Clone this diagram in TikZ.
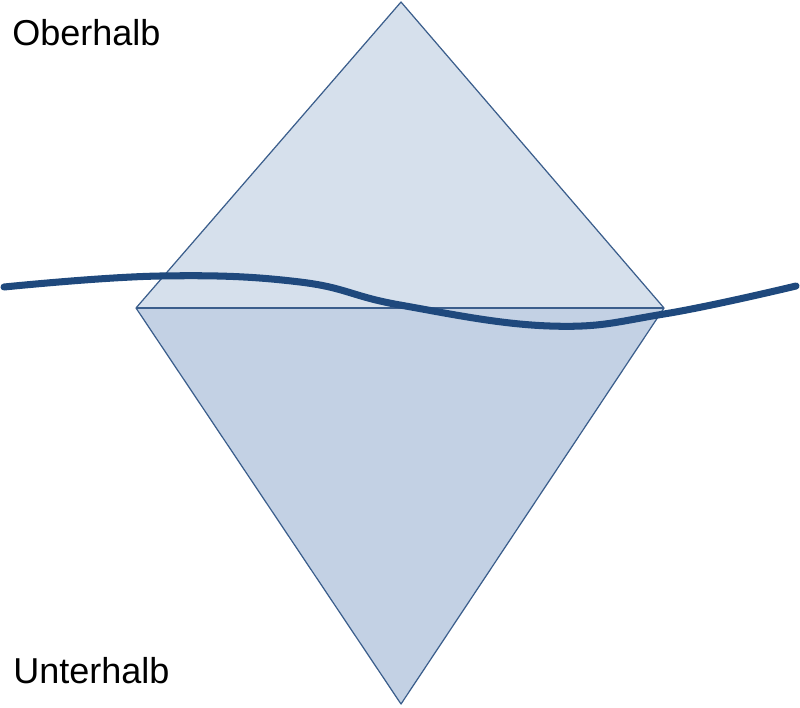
\documentclass[tikz,border=0pt]{standalone}
\usepackage{fontspec}
\setmainfont{Liberation Sans}
\definecolor{upfill}{HTML}{D6E0EC}
\definecolor{lowfill}{HTML}{C3D1E4}
\definecolor{edgeblue}{HTML}{3B5E8C}
\definecolor{waveblue}{HTML}{1F497D}
\begin{document}
\begin{tikzpicture}[x=0.02cm, y=-0.02cm]
\useasboundingbox (0,0) rectangle (800,707);

\tikzset{halfstyle/.style={draw=edgeblue, line width=0.7pt, line join=round}}
\tikzset{wavestyle/.style={draw=waveblue, line width=4pt, line cap=round}}
\tikzset{every node/.style={font=\fontsize{20.5pt}{24pt}\selectfont, inner sep=0pt, anchor=base west}}

% corners of the diamond
\coordinate (top) at (401,2);
\coordinate (left) at (136,308);
\coordinate (right) at (664,308);
\coordinate (bottom) at (401,704);

\fill [upfill] (left) -- (top) -- (right) -- cycle;
\fill [lowfill] (left) -- (bottom) -- (right) -- cycle;
\draw [halfstyle] (left) -- (top) -- (right) -- (bottom) -- cycle;
\draw [halfstyle] (left) -- (right);

% the water line
\draw [wavestyle] plot [smooth, tension=0.7] coordinates {(4,287) (160,276) (300,282) (400,305) (550,326) (664,314) (796,286)};

\node (oben) at (12,45) {Oberhalb};
\node (unten) at (13,683) {Unterhalb};
\end{tikzpicture}
\end{document}
